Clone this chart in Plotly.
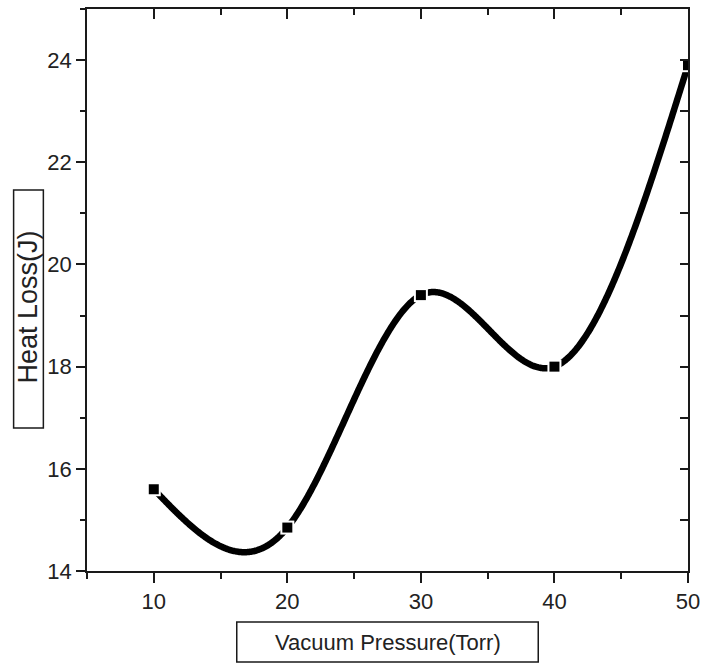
import numpy as np
import plotly.graph_objects as go

# Data
pressure = [10, 20, 30, 40, 50]
heat_loss = [15.6, 14.85, 19.4, 18.0, 23.9]
x_ticks = [10, 20, 30, 40, 50]
y_ticks = [14, 16, 18, 20, 22, 24]
x_title = "Vacuum Pressure(Torr)"
y_title = "Heat Loss(J)"


def natural_spline(xs, ys, per_seg=150):
    xs = np.asarray(xs, float)
    ys = np.asarray(ys, float)
    n = len(xs)
    h = np.diff(xs)
    A = np.zeros((n, n))
    b = np.zeros(n)
    A[0, 0] = 1
    A[-1, -1] = 1
    for i in range(1, n - 1):
        A[i, i - 1] = h[i - 1]
        A[i, i] = 2 * (h[i - 1] + h[i])
        A[i, i + 1] = h[i]
        b[i] = 6 * ((ys[i + 1] - ys[i]) / h[i] - (ys[i] - ys[i - 1]) / h[i - 1])
    M = np.linalg.solve(A, b)
    out_x, out_y = [], []
    for i in range(n - 1):
        t = np.linspace(xs[i], xs[i + 1], per_seg, endpoint=(i == n - 2))
        a = xs[i + 1] - t
        c = t - xs[i]
        s = (M[i] * a ** 3 + M[i + 1] * c ** 3) / (6 * h[i]) \
            + (ys[i] / h[i] - M[i] * h[i] / 6) * a \
            + (ys[i + 1] / h[i] - M[i + 1] * h[i] / 6) * c
        out_x.extend(t)
        out_y.extend(s)
    return out_x, out_y


sx, sy = natural_spline(pressure, heat_loss)

W, H = 709, 665
L, R, T, B = 87, 16, 9, 94
pw, ph = W - L - R, H - T - B


def px(xp):
    return (xp - L) / pw


def py(yp):
    return (H - B - yp) / ph


FONT = "Liberation Sans, Arial, sans-serif"
TICKFONT = "Liberation Sans Narrow, Arial Narrow, Liberation Sans, sans-serif"

fig = go.Figure()
fig.add_trace(go.Scatter(x=sx, y=sy, mode="lines",
                         line=dict(color="black", width=6.5, simplify=False),
                         hoverinfo="skip", showlegend=False))
# white halo to create the gap between line and symbol
fig.add_trace(go.Scatter(x=pressure, y=heat_loss, mode="markers",
                         marker=dict(symbol="square", size=14, color="white"),
                         hoverinfo="skip", showlegend=False))
fig.add_trace(go.Scatter(x=pressure, y=heat_loss, mode="markers",
                         marker=dict(symbol="square", size=10, color="black"),
                         showlegend=False))
# invisible trace to activate mirrored axes
fig.add_trace(go.Scatter(x=pressure, y=heat_loss, mode="markers", xaxis="x2", yaxis="y2",
                         marker=dict(opacity=0), hoverinfo="skip", showlegend=False))

axis_common = dict(showgrid=False, zeroline=False, showline=True,
                   linecolor="#1a1a1a", linewidth=1.5, tickcolor="#1a1a1a",
                   tickwidth=1.5)

fig.update_layout(
    width=W, height=H,
    margin=dict(l=L, r=R, t=T, b=B),
    plot_bgcolor="white", paper_bgcolor="white",
    font=dict(family=FONT, color="#222", size=19),
    xaxis=dict(range=[5, 50], tickmode="array", tickvals=x_ticks,
               ticks="outside", ticklen=10,
               minor=dict(dtick=5, tick0=5, ticks="outside", ticklen=6,
                          tickcolor="#1a1a1a", tickwidth=1.5),
               tickfont=dict(size=22, family=TICKFONT), **axis_common),
    yaxis=dict(range=[14, 25], tickmode="array", tickvals=y_ticks,
               ticks="outside", ticklen=9,
               minor=dict(dtick=1, tick0=14, ticks="outside", ticklen=5,
                          tickcolor="#1a1a1a", tickwidth=1.5),
               tickfont=dict(size=22, family=TICKFONT), **axis_common),
    xaxis2=dict(range=[5, 50], overlaying="x", side="top", anchor="y2",
                tickmode="array", tickvals=x_ticks, showticklabels=False,
                ticks="inside", ticklen=10,
                minor=dict(dtick=5, tick0=5, ticks="inside", ticklen=6,
                           tickcolor="#1a1a1a", tickwidth=1.5),
                **axis_common),
    yaxis2=dict(range=[14, 25], overlaying="y", side="right", anchor="x2",
                tickmode="array", tickvals=y_ticks, showticklabels=False,
                ticks="inside", ticklen=8,
                minor=dict(dtick=1, tick0=14, ticks="inside", ticklen=8,
                           tickcolor="#1a1a1a", tickwidth=1.5),
                **axis_common),
)

# Axis title boxes
fig.add_shape(type="rect", xref="paper", yref="paper",
              x0=px(238), x1=px(542), y0=py(662), y1=py(622),
              line=dict(color="#1a1a1a", width=1.5))
fig.add_annotation(xref="paper", yref="paper", x=px(390), y=py(642),
                   xanchor="center", yanchor="middle",
                   text=x_title, showarrow=False,
                   font=dict(size=22, family=FONT, color="#222"))
fig.add_shape(type="rect", xref="paper", yref="paper",
              x0=px(13), x1=px(43), y0=py(428), y1=py(190),
              line=dict(color="#1a1a1a", width=1.5))
fig.add_annotation(xref="paper", yref="paper", x=px(28), y=py(307),
                   xanchor="center", yanchor="middle",
                   text=y_title, showarrow=False, textangle=-90,
                   font=dict(size=27, family=FONT, color="#222"))

fig.write_html("out.html")
